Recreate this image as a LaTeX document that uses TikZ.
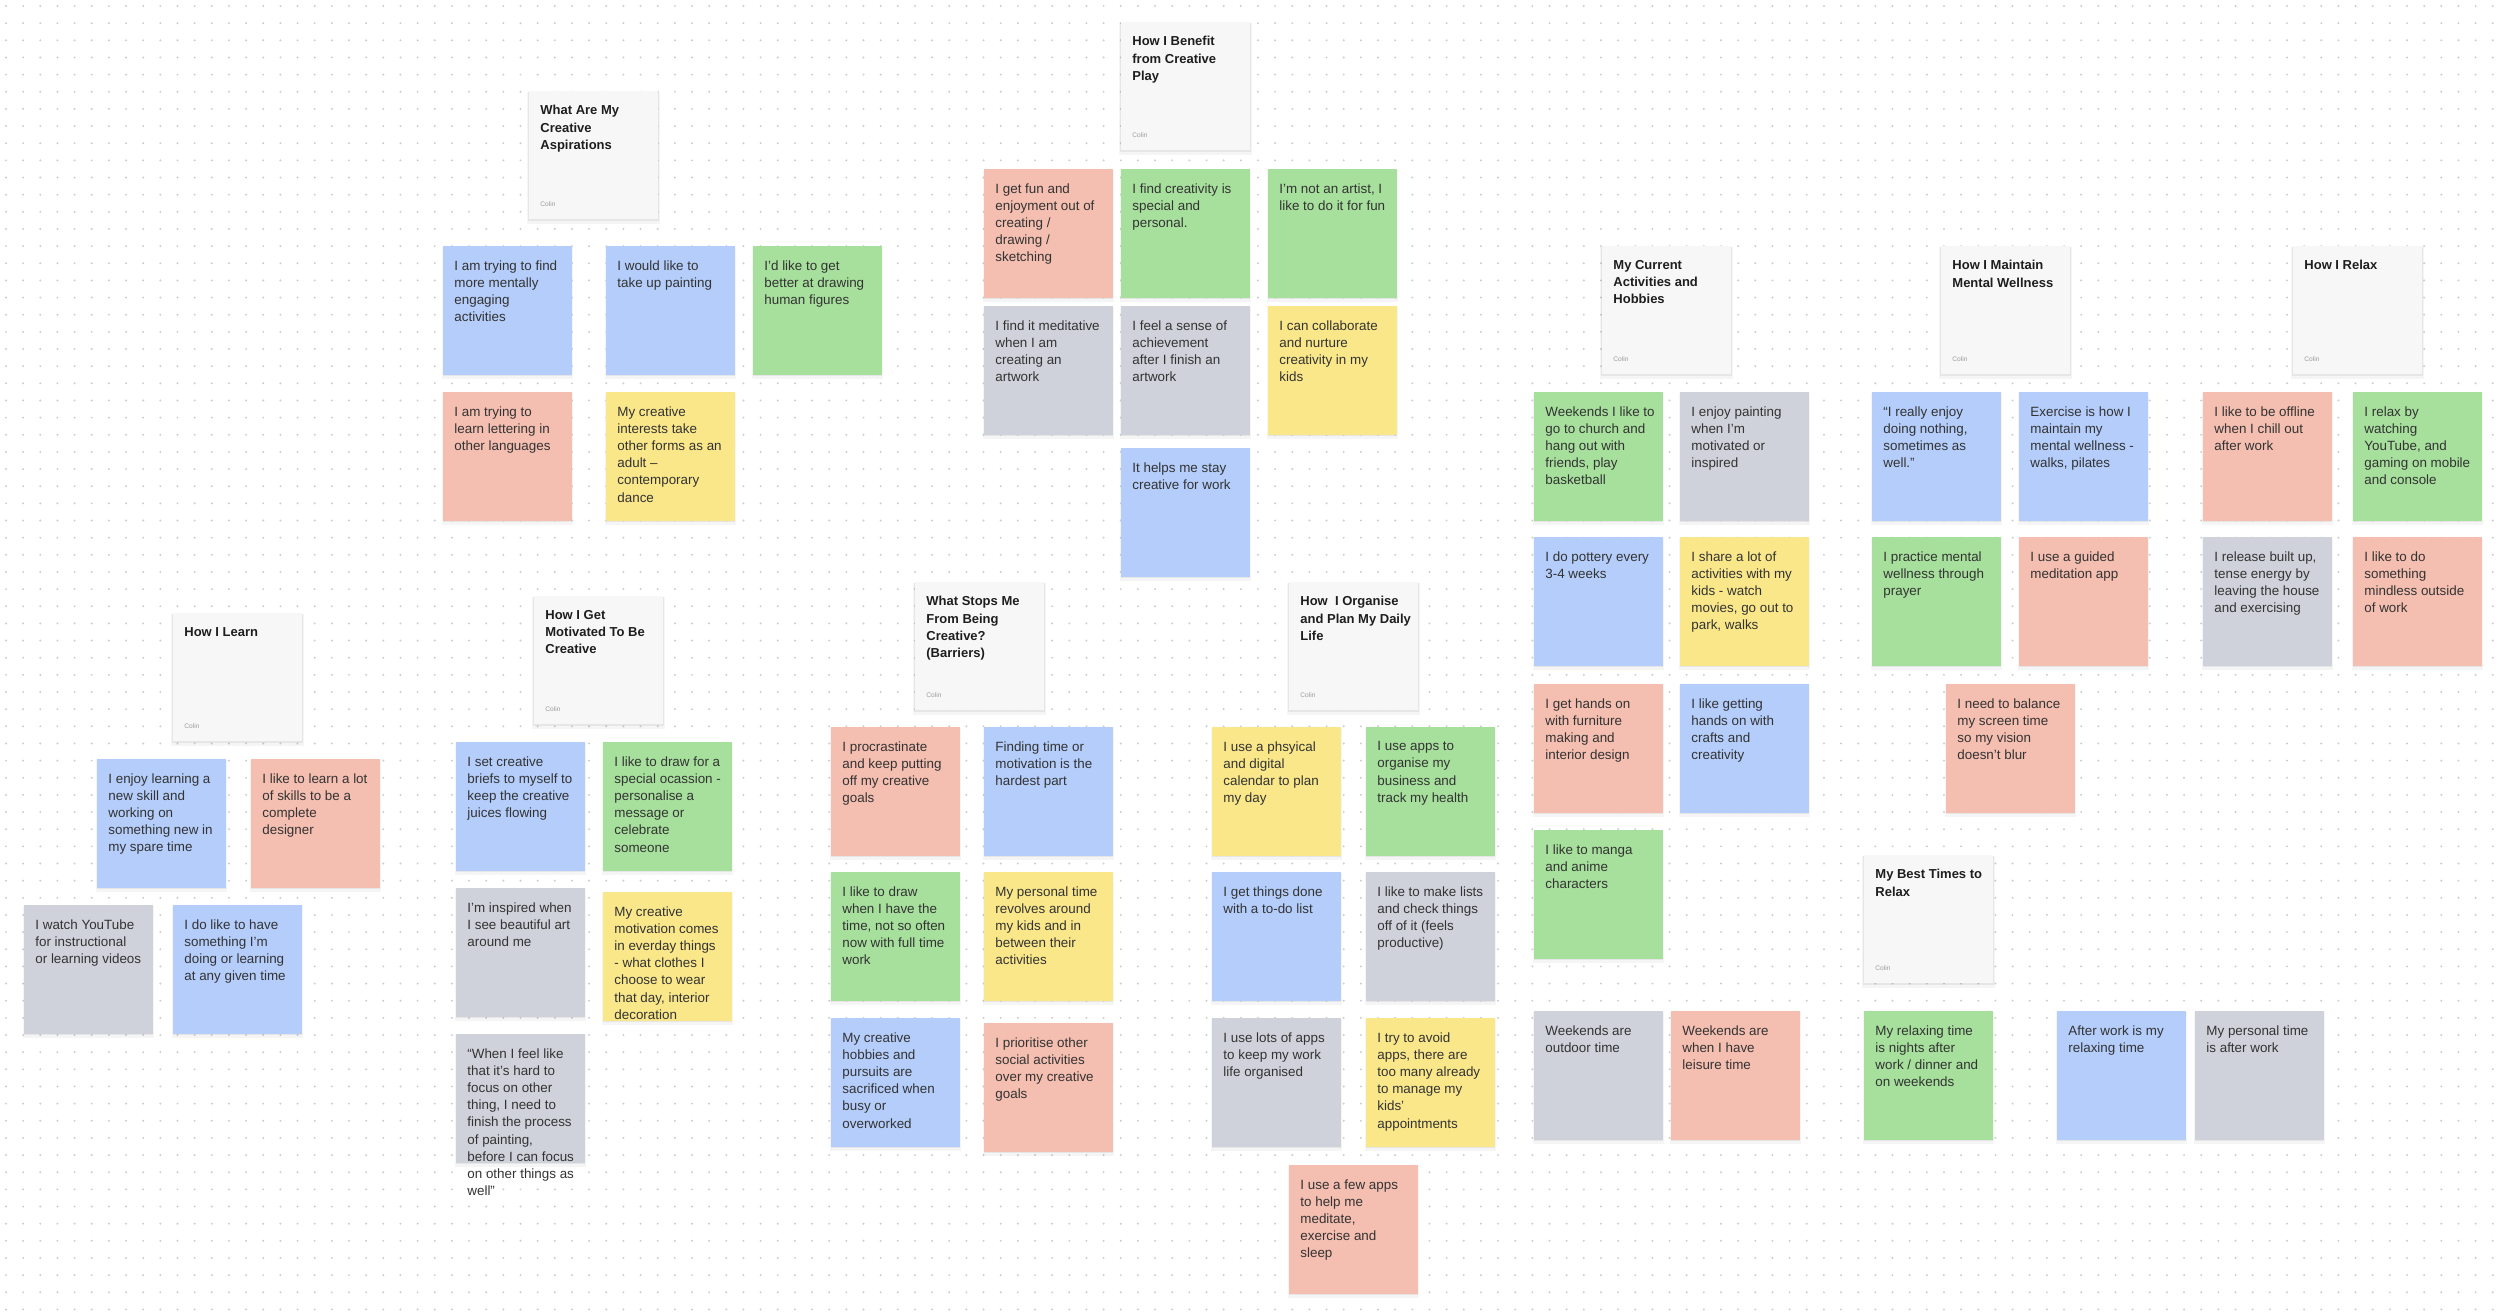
\documentclass[tikz,border=0pt]{standalone}
\usepackage{fontspec}
\setmainfont{Liberation Sans}
\usepackage{tikz}
\usetikzlibrary{shadows}
\definecolor{NoteBlue}{HTML}{B4CDFA}
\definecolor{NoteGreen}{HTML}{A6E09C}
\definecolor{NoteRose}{HTML}{F4BEB0}
\definecolor{NoteYellow}{HTML}{F9E78A}
\definecolor{NoteGrey}{HTML}{CFD2DA}
\definecolor{CardFill}{HTML}{F7F7F7}
\definecolor{NoteInk}{HTML}{333333}
\definecolor{CardInk}{HTML}{1E1E1E}
\definecolor{AuthorInk}{HTML}{9A9A9A}
\definecolor{BoardDot}{HTML}{CDCDCD}
\tikzset{
  note/.style={anchor=north west, minimum width=64.5pt, minimum height=64.5pt,
    inner sep=0pt, outer sep=0pt,
    drop shadow={shadow xshift=0pt, shadow yshift=-1.2pt, shadow scale=1.02, opacity=0.08},
    drop shadow={shadow xshift=0pt, shadow yshift=-0.6pt, opacity=0.12}},
  card/.style={anchor=north west, fill=CardFill, minimum width=64.5pt, minimum height=64pt,
    inner sep=0pt, outer sep=0pt,
    drop shadow={shadow xshift=0pt, shadow yshift=-1.5pt, shadow scale=1.03, opacity=0.08},
    drop shadow={shadow xshift=0pt, shadow yshift=-0.8pt, shadow scale=1.01, opacity=0.12}},
  notetext/.style={anchor=north west, inner sep=0pt, align=left, text=NoteInk,
    font=\fontsize{6.7pt}{8.6pt}\selectfont},
  cardtitle/.style={notetext, text=CardInk, font=\bfseries\fontsize{6.5pt}{8.6pt}\selectfont},
  cardauthor/.style={anchor=base west, inner sep=0pt, text=AuthorInk,
    font=\fontsize{3.3pt}{4pt}\selectfont}
}
\newcommand{\stickynote}[5]{%
  \node[note, fill=#4] (#1) at (#2,#3) {};
  \node[notetext] (#1t) at ([shift={(11,14)}]#1.north west) {#5};
}
\newcommand{\titlecard}[4]{%
  \node[card] (#1) at (#2,#3) {};
  \node[cardtitle] (#1t) at ([shift={(11,14)}]#1.north west) {#4};
  \node[cardauthor] (#1a) at ([shift={(11,115)}]#1.north west) {Colin};
}
\begin{document}
\begin{tikzpicture}[x=0.5pt, y=-0.5pt]
  \fill[white] (0,0) rectangle (2500,1313);
  \useasboundingbox (0,0) rectangle (2500,1313);
  % dotted board
  \foreach \r in {0,...,76}
    \draw[BoardDot, line width=1.1pt, line cap=round, dash pattern=on 0pt off 8.575pt]
      (6,{6+17.15*\r}) -- (2500,{6+17.15*\r});

  % aspirations
  \titlecard{asp}{529}{91}{What Are My\\Creative\\Aspirations}
  \stickynote{asp1}{443}{246}{NoteBlue}{I am trying to find\\more mentally\\engaging\\activities}
  \stickynote{asp2}{606}{246}{NoteBlue}{I would like to\\take up painting}
  \stickynote{asp3}{753}{246}{NoteGreen}{I’d like to get\\better at drawing\\human figures}
  \stickynote{asp4}{443}{392}{NoteRose}{I am trying to\\learn lettering in\\other languages}
  \stickynote{asp5}{606}{392}{NoteYellow}{My creative\\interests take\\other forms as an\\adult –\\contemporary\\dance}

  % benefit
  \titlecard{ben}{1121}{22}{How I Benefit\\from Creative\\Play}
  \stickynote{ben1}{984}{169}{NoteRose}{I get fun and\\enjoyment out of\\creating /\\drawing /\\sketching}
  \stickynote{ben2}{1121}{169}{NoteGreen}{I find creativity is\\special and\\personal.}
  \stickynote{ben3}{1268}{169}{NoteGreen}{I’m not an artist, I\\like to do it for fun}
  \stickynote{ben4}{984}{306}{NoteGrey}{I find it meditative\\when I am\\creating an\\artwork}
  \stickynote{ben5}{1121}{306}{NoteGrey}{I feel a sense of\\achievement\\after I finish an\\artwork}
  \stickynote{ben6}{1268}{306}{NoteYellow}{I can collaborate\\and nurture\\creativity in my\\kids}
  \stickynote{ben7}{1121}{448}{NoteBlue}{It helps me stay\\creative for work}

  % current activities
  \titlecard{cur}{1602}{246}{My Current\\Activities and\\Hobbies}
  \stickynote{cur1}{1534}{392}{NoteGreen}{Weekends I like to\\go to church and\\hang out with\\friends, play\\basketball}
  \stickynote{cur2}{1680}{392}{NoteGrey}{I enjoy painting\\when I’m\\motivated or\\inspired}
  \stickynote{cur3}{1534}{537}{NoteBlue}{I do pottery every\\3-4 weeks}
  \stickynote{cur4}{1680}{537}{NoteYellow}{I share a lot of\\activities with my\\kids - watch\\movies, go out to\\park, walks}
  \stickynote{cur5}{1534}{684}{NoteRose}{I get hands on\\with furniture\\making and\\interior design}
  \stickynote{cur6}{1680}{684}{NoteBlue}{I like getting\\hands on with\\crafts and\\creativity}
  \stickynote{cur7}{1534}{830}{NoteGreen}{I like to manga\\and anime\\characters}
  \stickynote{cur8}{1534}{1011}{NoteGrey}{Weekends are\\outdoor time}
  \stickynote{cur9}{1671}{1011}{NoteRose}{Weekends are\\when I have\\leisure time}

  % mental wellness
  \titlecard{well}{1941}{246}{How I Maintain\\Mental Wellness}
  \stickynote{well1}{1872}{392}{NoteBlue}{“I really enjoy\\doing nothing,\\sometimes as\\well.”}
  \stickynote{well2}{2019}{392}{NoteBlue}{Exercise is how I\\maintain my\\mental wellness -\\walks, pilates}
  \stickynote{well3}{1872}{537}{NoteGreen}{I practice mental\\wellness through\\prayer}
  \stickynote{well4}{2019}{537}{NoteRose}{I use a guided\\meditation app}
  \stickynote{well5}{1946}{684}{NoteRose}{I need to balance\\my screen time\\so my vision\\doesn’t blur}

  % relax
  \titlecard{rel}{2293}{246}{How I Relax}
  \stickynote{rel1}{2203}{392}{NoteRose}{I like to be offline\\when I chill out\\after work}
  \stickynote{rel2}{2353}{392}{NoteGreen}{I relax by\\watching\\YouTube, and\\gaming on mobile\\and console}
  \stickynote{rel3}{2203}{537}{NoteGrey}{I release built up,\\tense energy by\\leaving the house\\and exercising}
  \stickynote{rel4}{2353}{537}{NoteRose}{I like to do\\something\\mindless outside\\of work}

  % best times
  \titlecard{best}{1864}{855}{My Best Times to\\Relax}
  \stickynote{best1}{1864}{1011}{NoteGreen}{My relaxing time\\is nights after\\work / dinner and\\on weekends}
  \stickynote{best2}{2057}{1011}{NoteBlue}{After work is my\\relaxing time}
  \stickynote{best3}{2195}{1011}{NoteGrey}{My personal time\\is after work}

  % learning
  \titlecard{learn}{173}{613}{How I Learn}
  \stickynote{learn1}{97}{759}{NoteBlue}{I enjoy learning a\\new skill and\\working on\\something new in\\my spare time}
  \stickynote{learn2}{251}{759}{NoteRose}{I like to learn a lot\\of skills to be a\\complete\\designer}
  \stickynote{learn3}{24}{905}{NoteGrey}{I watch YouTube\\for instructional\\or learning videos}
  \stickynote{learn4}{173}{905}{NoteBlue}{I do like to have\\something I’m\\doing or learning\\at any given time}

  % motivation
  \titlecard{mot}{534}{596}{How I Get\\Motivated To Be\\Creative}
  \stickynote{mot1}{456}{742}{NoteBlue}{I set creative\\briefs to myself to\\keep the creative\\juices flowing}
  \stickynote{mot2}{603}{742}{NoteGreen}{I like to draw for a\\special ocassion -\\personalise a\\message or\\celebrate\\someone}
  \stickynote{mot3}{456}{888}{NoteGrey}{I’m inspired when\\I see beautiful art\\around me}
  \stickynote{mot4}{603}{892}{NoteYellow}{My creative\\motivation comes\\in everday things\\{-} what clothes I\\choose to wear\\that day, interior\\decoration}
  \stickynote{mot5}{456}{1034}{NoteGrey}{“When I feel like\\that it’s hard to\\focus on other\\thing, I need to\\finish the process\\of painting,\\before I can focus\\on other things as\\well”}

  % barriers
  \titlecard{stop}{915}{582}{What Stops Me\\From Being\\Creative?\\(Barriers)}
  \stickynote{stop1}{831}{727}{NoteRose}{I procrastinate\\and keep putting\\off my creative\\goals}
  \stickynote{stop2}{984}{727}{NoteBlue}{Finding time or\\motivation is the\\hardest part}
  \stickynote{stop3}{831}{872}{NoteGreen}{I like to draw\\when I have the\\time, not so often\\now with full time\\work}
  \stickynote{stop4}{984}{872}{NoteYellow}{My personal time\\revolves around\\my kids and in\\between their\\activities}
  \stickynote{stop5}{831}{1018}{NoteBlue}{My creative\\hobbies and\\pursuits are\\sacrificed when\\busy or\\overworked}
  \stickynote{stop6}{984}{1023}{NoteRose}{I prioritise other\\social activities\\over my creative\\goals}

  % daily planning
  \titlecard{plan}{1289}{582}{How\ \ I Organise\\and Plan My Daily\\Life}
  \stickynote{plan1}{1212}{727}{NoteYellow}{I use a phsyical\\and digital\\calendar to plan\\my day}
  \stickynote{plan2}{1366}{727}{NoteGreen}{I use apps to\\organise my\\business and\\track my health}
  \stickynote{plan3}{1212}{872}{NoteBlue}{I get things done\\with a to-do list}
  \stickynote{plan4}{1366}{872}{NoteGrey}{I like to make lists\\and check things\\off of it (feels\\productive)}
  \stickynote{plan5}{1212}{1018}{NoteGrey}{I use lots of apps\\to keep my work\\life organised}
  \stickynote{plan6}{1366}{1018}{NoteYellow}{I try to avoid\\apps, there are\\too many already\\to manage my\\kids’\\appointments}
  \stickynote{plan7}{1289}{1165}{NoteRose}{I use a few apps\\to help me\\meditate,\\exercise and\\sleep}
\end{tikzpicture}
\end{document}
